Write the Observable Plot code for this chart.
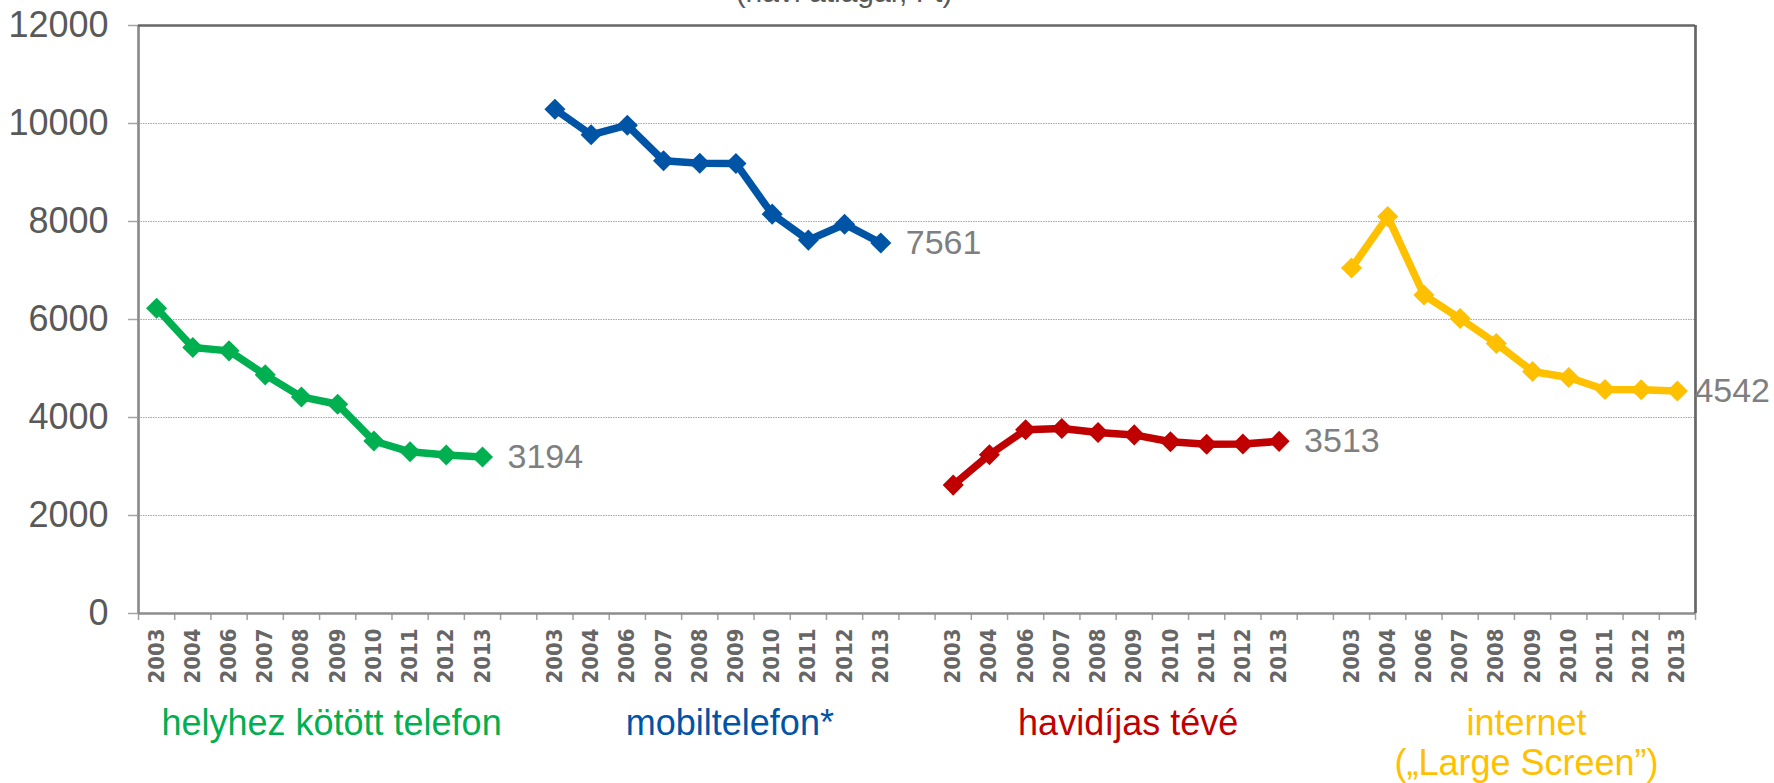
<!DOCTYPE html>
<html>
<head>
<meta charset="utf-8">
<script src="https://cdn.jsdelivr.net/npm/d3@7"></script>
<script src="https://cdn.jsdelivr.net/npm/@observablehq/plot@0.6"></script>
<style>
  html, body { margin: 0; padding: 0; background: #fff; }
  svg { display: block; }
</style>
</head>
<body>
<div id="chart"></div>
<script>
// ---- data ----
const years = ["2003", "2004", "2006", "2007", "2008", "2009", "2010", "2011", "2012", "2013"];
const categories = ["helyhez kötött telefon", "mobiltelefon*", "havidíjas tévé", "internet\n(„Large Screen”)"];
const fixedPhone = [6230, 5430, 5360, 4870, 4420, 4270, 3520, 3300, 3235, 3194];
const mobilePhone = [10290, 9770, 9965, 9240, 9190, 9185, 8150, 7620, 7945, 7561];
const payTV = [2620, 3240, 3750, 3775, 3695, 3645, 3505, 3455, 3460, 3513];
const internet = [7050, 8100, 6500, 6020, 5510, 4940, 4815, 4570, 4565, 4542];
const yTicks = [0, 2000, 4000, 6000, 8000, 10000, 12000];
const subtitle = "(havi átlagár, Ft)";

// ---- styling ----
const seriesColors = ["#00b050", "#0054a6", "#c00000", "#ffc000"];

// ---- derived table ----
const seriesValues = [fixedPhone, mobilePhone, payTV, internet];
const gap = 1;
const groupSize = years.length + gap;
const slotCount = categories.length * years.length + (categories.length - 1) * gap;

const rows = [];
categories.forEach((c, g) => {
  years.forEach((yr, i) => {
    rows.push({series: c, year: yr, slot: g * groupSize + i + 0.5, value: seriesValues[g][i]});
  });
});
const lastRows = categories.map(c => rows.filter(r => r.series === c).at(-1));
const groupLabels = categories.map((c, g) => ({series: c, slot: g * groupSize + years.length / 2}));
const yMax = yTicks[yTicks.length - 1];

const chart = Plot.plot({
  width: 1774,
  height: 783,
  marginLeft: 138,
  marginRight: 79,
  marginTop: 25,
  marginBottom: 170,
  x: {domain: [0, slotCount], axis: null},
  y: {domain: [0, yMax], axis: null},
  color: {domain: categories, range: seriesColors},
  style: {fontFamily: "'Liberation Sans', Arial, sans-serif", background: "#fff", overflow: "visible"},
  marks: [
    Plot.ruleY(yTicks.filter(v => v > 0 && v < yMax), {stroke: "#a6a6a6", strokeWidth: 1, strokeDasharray: "1.5,1"}),
    Plot.axisY({ticks: yTicks, tickFormat: d => String(d), tickSize: 10, tickPadding: 20, fontSize: 36, stroke: "#a6a6a6", strokeWidth: 1.5, fill: "#595959", label: null}),
    Plot.axisX({ticks: d3.range(0, slotCount + 1), tickSize: 7, tickFormat: () => "", stroke: "#a0a0a0", strokeWidth: 1.5, label: null}),
    Plot.ruleY([0], {stroke: "#8c8c8c", strokeWidth: 2.7}),
    Plot.ruleX([0], {stroke: "#8c8c8c", strokeWidth: 2.7}),
    Plot.ruleY([yMax], {stroke: "#666666", strokeWidth: 2.7}),
    Plot.ruleX([slotCount], {stroke: "#666666", strokeWidth: 2.7}),
    Plot.line(rows, {x: "slot", y: "value", z: "series", stroke: "series", strokeWidth: 7.5, strokeLinejoin: "miter"}),
    Plot.dot(rows, {x: "slot", y: "value", fill: "series", stroke: "none", symbol: "diamond2", r: 9.5}),
    Plot.text(lastRows.slice(0, 3), {x: "slot", y: "value", text: d => String(d.value), dx: 25, textAnchor: "start", fill: "#7f7f7f", fontSize: 34}),
    Plot.text(lastRows.slice(3), {x: "slot", y: "value", text: d => String(d.value), dx: 17, textAnchor: "start", fill: "#7f7f7f", fontSize: 34}),
    Plot.text(rows, {x: "slot", text: "year", frameAnchor: "bottom", rotate: -90, textAnchor: "end", lineAnchor: "middle", dy: 15,
      fontSize: 22, fontWeight: "bold", fontFamily: "'DejaVu Sans Condensed', 'DejaVu Sans', sans-serif", fill: "#666666"}),
    Plot.text(groupLabels, {x: "slot", text: "series", fill: "series", frameAnchor: "bottom", lineAnchor: "top", dy: 93, dx: 12,
      fontSize: 36, lineHeight: 1.11}),
    Plot.text([subtitle], {frameAnchor: "top", lineAnchor: "bottom", dy: -24, dx: -73, fontSize: 30, fill: "#595959"})
  ]
});
document.getElementById("chart").appendChild(chart);
</script>
</body>
</html>
